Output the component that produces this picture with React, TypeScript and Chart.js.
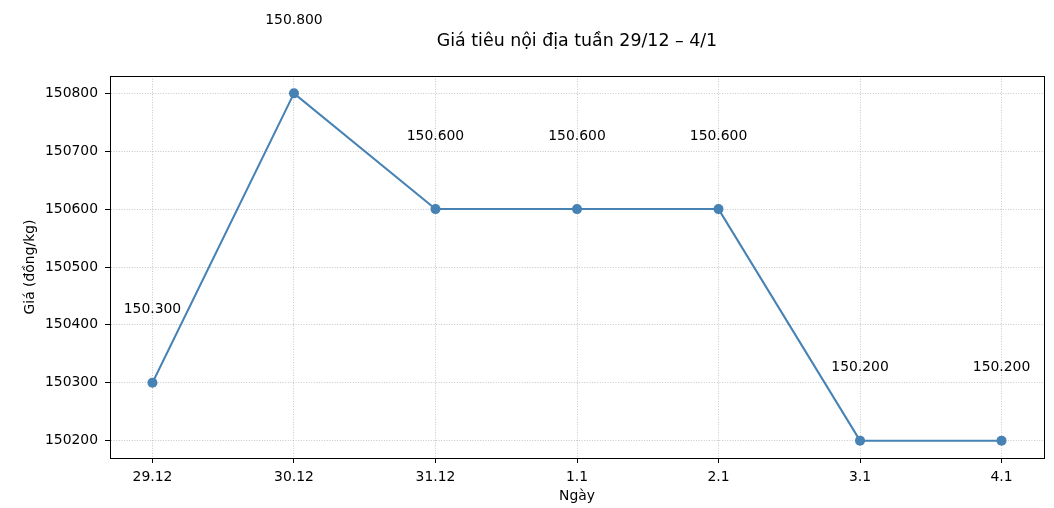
import React, { useEffect, useRef } from "react";
import { Chart, registerables } from "chart.js";

Chart.register(...registerables);

const categories = ["29.12", "30.12", "31.12", "1.1", "2.1", "3.1", "4.1"];
const prices = [150300, 150800, 150600, 150600, 150600, 150200, 150200];
const titleText = "Giá tiêu nội địa tuần 29/12 – 4/1";
const xTitle = "Ngày";
const yTitle = "Giá (đồng/kg)";

const FONT = "'DejaVu Sans', sans-serif";
const LINE = "#4682b4";

const fmt = (v: number) => {
  const s = String(Math.round(v));
  return s.replace(/\B(?=(\d{3})+(?!\d))/g, ".");
};

const extras = {
  id: "extras",
  afterDatasetsDraw(chart: any) {
    const { ctx, chartArea } = chart;
    const meta = chart.getDatasetMeta(0);
    ctx.save();
    ctx.fillStyle = "#000";
    ctx.font = `13.9px ${FONT}`;
    ctx.textAlign = "center";
    ctx.textBaseline = "middle";
    meta.data.forEach((pt: any, i: number) => {
      ctx.fillText(fmt(prices[i]), pt.x, pt.y - 73);
    });
    // title
    ctx.font = `17.4px ${FONT}`;
    ctx.fillText(titleText, (chartArea.left + chartArea.right) / 2, 41);
    // frame
    ctx.strokeStyle = "#000";
    ctx.lineWidth = 1;
    ctx.strokeRect(
      Math.round(chartArea.left) + 0.5,
      Math.round(chartArea.top) + 0.5,
      Math.round(chartArea.right - chartArea.left),
      Math.round(chartArea.bottom - chartArea.top)
    );
    ctx.restore();
  },
};

export default function App() {
  const ref = useRef<HTMLCanvasElement>(null);
  useEffect(() => {
    if (!ref.current) return;
    const chart = new Chart(ref.current, {
      type: "line",
      data: {
        datasets: [
          {
            data: prices.map((v, i) => ({ x: i, y: v })),
            borderColor: LINE,
            backgroundColor: LINE,
            borderWidth: 2,
            pointRadius: 5,
            pointHoverRadius: 5,
            pointBackgroundColor: LINE,
            pointBorderColor: LINE,
            pointBorderWidth: 0,
            tension: 0,
            clip: false as any,
          },
        ],
      },
      options: {
        responsive: false,
        animation: false,
        events: [],
        layout: { padding: { left: 0, top: 76, right: 10, bottom: 0 } },
        plugins: {
          legend: { display: false },
          title: { display: false },
          tooltip: { enabled: false },
        },
        scales: {
          x: {
            type: "linear",
            min: -0.3,
            max: 6.3,
            afterFit: (s: any) => {
              s.height = 50;
            },
            ticks: {
              stepSize: 1,
              includeBounds: false,
              autoSkip: false,
              maxRotation: 0,
              padding: 6,
              color: "#000",
              font: { family: FONT, size: 13.9 },
              callback: (v: any) => categories[Number(v)] ?? "",
            },
            grid: {
              color: "rgba(170,170,170,0.85)",
              lineWidth: 0.8,
              tickLength: 5,
              tickColor: "#000",
              tickWidth: 1,
              tickBorderDash: [],
            },
            border: { display: true, color: "#000", width: 1, dash: [1, 1.6] },
            title: {
              display: true,
              text: xTitle,
              color: "#000",
              font: { family: FONT, size: 13.9 },
              padding: { top: 0, bottom: 3 },
            },
          },
          y: {
            type: "linear",
            min: 150170,
            max: 150830,
            afterFit: (s: any) => {
              s.width = 110;
            },
            ticks: {
              stepSize: 100,
              includeBounds: false,
              padding: 7,
              color: "#000",
              font: { family: FONT, size: 13.9 },
              callback: (v: any) => String(v),
            },
            grid: {
              color: "rgba(170,170,170,0.85)",
              lineWidth: 0.8,
              tickLength: 5,
              tickColor: "#000",
              tickWidth: 1,
              tickBorderDash: [],
            },
            border: { display: true, color: "#000", width: 1, dash: [1, 1.6] },
            title: {
              display: true,
              text: yTitle,
              color: "#000",
              font: { family: FONT, size: 13.9 },
              padding: { top: 22, bottom: 0 },
            },
          },
        },
      } as any,
      plugins: [extras],
    });
    return () => chart.destroy();
  }, []);
  return (
    <div style={{ position: "absolute", left: 0, top: 0, width: 1054, height: 508 }}>
      <canvas ref={ref} width={1054} height={508} style={{ width: 1054, height: 508 }} />
    </div>
  );
}
